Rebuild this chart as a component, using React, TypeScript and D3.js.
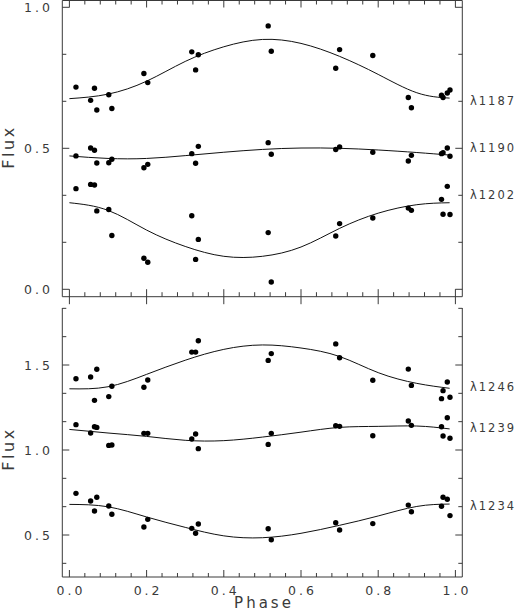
import React from "react";
import * as d3 from "d3";

// observation phases, shared by all six lines
const phases = [0.017, 0.055, 0.065, 0.071, 0.102, 0.110, 0.193, 0.203, 0.317, 0.327, 0.334,
  0.515, 0.523, 0.690, 0.700, 0.786, 0.878, 0.886, 0.964, 0.968, 0.979, 0.986];

// upper panel fluxes
const flux1187 = [0.717, 0.670, 0.713, 0.636, 0.690, 0.641, 0.765, 0.733, 0.842, 0.778, 0.832,
  0.934, 0.844, 0.784, 0.850, 0.829, 0.680, 0.644, 0.688, 0.680, 0.696, 0.707];
const flux1190 = [0.473, 0.501, 0.493, 0.448, 0.449, 0.461, 0.431, 0.443, 0.481, 0.447, 0.507,
  0.520, 0.479, 0.496, 0.505, 0.486, 0.455, 0.475, 0.481, 0.484, 0.501, 0.472];
const flux1202 = [0.357, 0.372, 0.370, 0.278, 0.283, 0.191, 0.110, 0.096, 0.261, 0.106, 0.177,
  0.201, 0.026, 0.189, 0.233, 0.253, 0.288, 0.280, 0.319, 0.266, 0.365, 0.265];

// lower panel fluxes
const flux1246 = [1.419, 1.429, 1.292, 1.475, 1.314, 1.375, 1.369, 1.412, 1.576, 1.576, 1.643,
  1.527, 1.567, 1.624, 1.543, 1.410, 1.476, 1.380, 1.302, 1.349, 1.400, 1.310];
const flux1239 = [1.149, 1.100, 1.137, 1.133, 1.027, 1.029, 1.098, 1.098, 1.065, 1.094, 1.008,
  1.033, 1.098, 1.143, 1.139, 1.084, 1.171, 1.145, 1.137, 1.082, 1.190, 1.069];
const flux1234 = [0.745, 0.700, 0.641, 0.722, 0.671, 0.622, 0.547, 0.592, 0.539, 0.510, 0.565,
  0.537, 0.472, 0.572, 0.529, 0.567, 0.676, 0.637, 0.669, 0.722, 0.710, 0.614];

const fitPhases = [0, 0.1, 0.2, 0.3, 0.4, 0.5, 0.6, 0.7, 0.8, 0.9, 0.985];
const fit1187 = [0.676, 0.692, 0.738, 0.808, 0.860, 0.886, 0.872, 0.826, 0.762, 0.697, 0.678];
const fit1190 = [0.473, 0.464, 0.464, 0.474, 0.486, 0.496, 0.501, 0.500, 0.494, 0.485, 0.476];
const fit1202 = [0.307, 0.280, 0.210, 0.152, 0.117, 0.117, 0.150, 0.216, 0.270, 0.300, 0.307];
const fit1246 = [1.360, 1.372, 1.445, 1.528, 1.592, 1.618, 1.600, 1.550, 1.455, 1.392, 1.363];
const fit1239 = [1.121, 1.100, 1.080, 1.057, 1.055, 1.076, 1.105, 1.133, 1.139, 1.141, 1.124];
const fit1234 = [0.680, 0.666, 0.606, 0.545, 0.495, 0.484, 0.510, 0.557, 0.612, 0.668, 0.682];

const topNames = ["λ1187", "λ1190", "λ1202"];
const topLabelAt = [0.667, 0.5, 0.333];
const bottomNames = ["λ1246", "λ1239", "λ1234"];
const bottomLabelAt = [1.372, 1.128, 0.672];

const phaseLabels = ["0.0", "0.2", "0.4", "0.6", "0.8", "1.0"];
const topFluxLabels = ["0.0", "0.5", "1.0"];
const bottomFluxLabels = ["0.5", "1.0", "1.5"];

const W = 518, H = 612;
const xl = 62.3, xr = 462.3;
const topY0 = 0.5, topY1 = 296.7;
const botY0 = 308, botY1 = 577;
const ink = "#3a3a3a";
const font = "'DejaVu Sans', sans-serif";

const x = d3.scaleLinear().domain([0, 1]).range([69.4, 455.4]);
const yTop = d3.scaleLinear().domain([0, 1]).range([289.3, 7.3]);
const yBot = d3.scaleLinear().domain([1, 1.5]).range([450, 365]);

function Panel({ y, names, fluxes, fits, labelAt, yTicks, yLabels }: any) {
  const line = d3.line<number>().x((_, i) => x(fitPhases[i])).y(d => y(d)).curve(d3.curveNatural);
  return (
    <g>
      {yTicks.map((t: number, i: number) => {
        const major = Math.abs(t * 2 - Math.round(t * 2)) < 1e-6;
        const len = major ? 7 : 4;
        return (
          <g key={i} stroke={ink} strokeWidth={1}>
            <line x1={xl} x2={xl + len} y1={y(t)} y2={y(t)} />
            <line x1={xr} x2={xr - len} y1={y(t)} y2={y(t)} />
          </g>
        );
      })}
      {yLabels.map((s: string) => (
        <text key={s} x={53} y={y(+s)} textAnchor="end" dominantBaseline="central"
          fontFamily={font} fontSize={12.5} letterSpacing={3} fill={ink}>{s}</text>
      ))}
      {fits.map((f: number[], k: number) => (
        <path key={k} d={line(f) || ""} fill="none" stroke="#111" strokeWidth={1} />
      ))}
      {fluxes.map((fl: number[], k: number) =>
        fl.map((v, i) => <circle key={k + "-" + i} cx={x(phases[i])} cy={y(v)} r={2.7} fill="#000" />)
      )}
      {names.map((n: string, k: number) => (
        <text key={n} x={470} y={y(labelAt[k])} dominantBaseline="central"
          fontFamily={font} fontSize={11.5} letterSpacing={2} fill={ink}>{n}</text>
      ))}
    </g>
  );
}

export default function App() {
  const xTicks = d3.range(0, 26).map(i => i * 0.04);
  const isMajor = (i: number) => i % 5 === 0;
  const topTicks = d3.range(0, 7).map(i => i / 6);
  const botTicks = d3.range(2, 12).map(i => i / 6);
  return (
    <svg width={W} height={H} style={{ position: "absolute", left: 0, top: 0, background: "#fff" }}>
      <g stroke={ink} strokeWidth={1} fill="none">
        {/* upper frame */}
        <line x1={xl} x2={xr} y1={topY0} y2={topY0} />
        <line x1={xl} x2={xr} y1={topY1} y2={topY1} />
        <line x1={xl} x2={xl} y1={topY0} y2={topY1} />
        <line x1={xr} x2={xr} y1={topY0} y2={topY1} />
        {/* lower frame */}
        <line x1={xl} x2={xr} y1={botY1} y2={botY1} />
        <line x1={xl} x2={xl} y1={botY0} y2={botY1} />
        <line x1={xr} x2={xr} y1={botY0} y2={botY1} />
        {xTicks.map((t, i) => (
          <g key={i}>
            <line x1={x(t)} x2={x(t)} y1={topY0} y2={topY0 + (isMajor(i) ? 7 : 4)} />
            <line x1={x(t)} x2={x(t)} y1={isMajor(i) ? topY1 - 7.5 : topY1 - 4.5} y2={isMajor(i) ? topY1 + 7.5 : topY1} />
            <line x1={x(t)} x2={x(t)} y1={botY1} y2={botY1 - (isMajor(i) ? 7 : 4)} />
          </g>
        ))}
      </g>
      <Panel y={yTop} names={topNames} fluxes={[flux1187, flux1190, flux1202]}
        fits={[fit1187, fit1190, fit1202]} labelAt={topLabelAt} yTicks={topTicks} yLabels={topFluxLabels} />
      <Panel y={yBot} names={bottomNames} fluxes={[flux1246, flux1239, flux1234]}
        fits={[fit1246, fit1239, fit1234]} labelAt={bottomLabelAt} yTicks={botTicks} yLabels={bottomFluxLabels} />
      {phaseLabels.map((s, i) => (
        <text key={s} x={x(i * 0.2) + 1.5} y={595} textAnchor="middle"
          fontFamily={font} fontSize={12.5} letterSpacing={3} fill={ink}>{s}</text>
      ))}
      <text x={264} y={607.5} textAnchor="middle" fontFamily={font} fontSize={15} letterSpacing={3} fill={ink}>Phase</text>
      <text transform="translate(14,147) rotate(-90)" textAnchor="middle" fontFamily={font} fontSize={16}
        letterSpacing={2.5} fill={ink}>Flux</text>
      <text transform="translate(14,449) rotate(-90)" textAnchor="middle" fontFamily={font} fontSize={16}
        letterSpacing={2.5} fill={ink}>Flux</text>
    </svg>
  );
}
